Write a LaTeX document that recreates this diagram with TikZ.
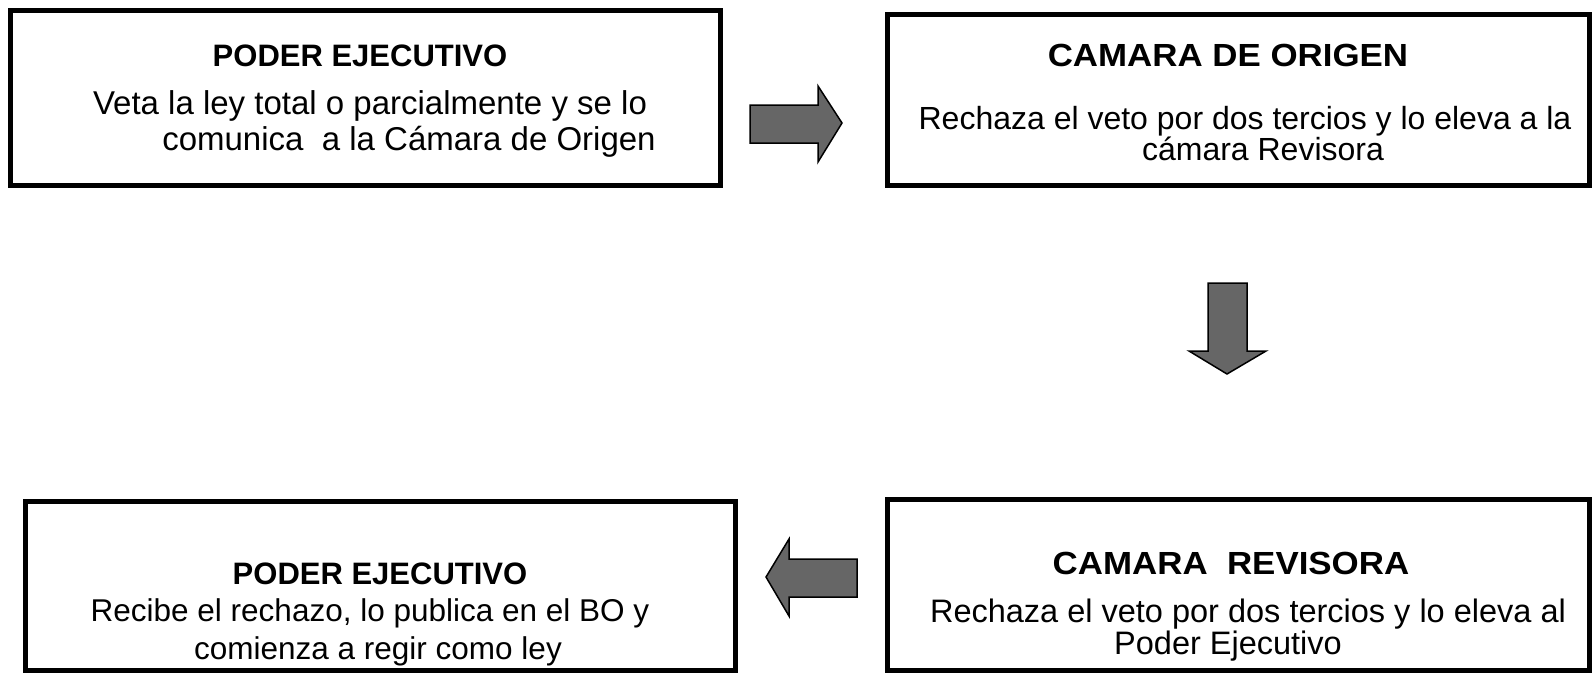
\documentclass[tikz,border=0pt]{standalone}
\usepackage{fontspec}
\setmainfont{Liberation Sans}
\definecolor{gris}{RGB}{102,102,102}
\newcommand{\ancho}[1]{\scalebox{1.09}[1]{#1}}
\begin{document}
\begin{tikzpicture}[x=1pt,y=-1pt,
		caja/.style={draw=black,line width=5pt,inner sep=0pt,outer sep=0pt},
		flecha/.style={draw=black,line width=1.5pt,fill=gris,line join=miter},
		titulo/.style={anchor=base,inner sep=0pt,font=\fontsize{#1}{#1}\selectfont\bfseries},
		texto/.style={anchor=base,inner sep=0pt,font=\fontsize{#1}{#1}\selectfont}]
	\clip (0,0) rectangle (1592,673);
	\fill[white] (0,0) rectangle (1592,673);
	%===========================================
	\node[caja,minimum width=710pt,minimum height=175pt] (ejec) at (365,97.5) {};
	\node[caja,minimum width=702.5pt,minimum height=171pt] (origen) at (1238.25,99.5) {};
	\node[caja,minimum width=710pt,minimum height=169.5pt] (ejecb) at (380,585.75) {};
	\node[caja,minimum width=702.5pt,minimum height=171.5pt] (revisora) at (1238.25,584.75) {};
	%===========================================
	\node[titulo=31] (ejec-t) at (360,66) {PODER EJECUTIVO};
	\node[texto=33] (ejec-a) at (370,114) {Veta la ley total o parcialmente y se lo};
	\node[texto=33] (ejec-b) at (409,150) {comunica\ \ a la Cámara de Origen};
	\node[titulo=32] (origen-t) at (1228,66) {\ancho{CAMARA DE ORIGEN}};
	\node[texto=32] (origen-a) at (1245,129) {Rechaza el veto por dos tercios y lo eleva a la};
	\node[texto=32] (origen-b) at (1263,160) {cámara Revisora};
	\node[titulo=31] (ejecb-t) at (380,584) {PODER EJECUTIVO};
	\node[texto=31.5] (ejecb-a) at (370,621) {Recibe el rechazo, lo publica en el BO y};
	\node[texto=31.5] (ejecb-b) at (378,659) {comienza a regir como ley};
	\node[titulo=32] (revisora-t) at (1231,574) {\ancho{CAMARA\ \ REVISORA}};
	\node[texto=32.5] (revisora-a) at (1248,622) {Rechaza el veto por dos tercios y lo eleva al};
	\node[texto=32.5] (revisora-b) at (1228,654) {Poder Ejecutivo};
	%===========================================
	\draw[flecha] (750,105)--(818,105)--(818,86)--(842,123)--(818,162)--(818,143)--(750,143)--cycle;
	\draw[flecha] (1208,283)--(1247,283)--(1247,351)--(1266,351)--(1227,374)--(1189,351)--(1208,351)--cycle;
	\draw[flecha] (857,559)--(789,559)--(789,539)--(766,577)--(789,616)--(789,597)--(857,597)--cycle;
\end{tikzpicture}
\end{document}
